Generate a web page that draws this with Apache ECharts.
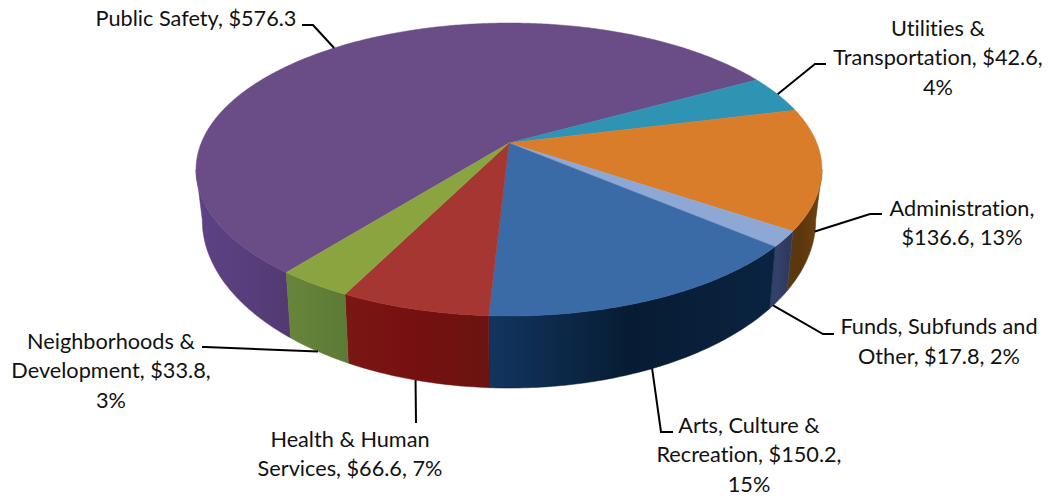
<!DOCTYPE html>
<html><head><meta charset="utf-8">
<style>html,body{margin:0;padding:0;background:#fff}#c{width:1052px;height:497px}
svg text{font-variant-ligatures:none !important;font-feature-settings:"liga" 0,"clig" 0 !important}</style>
<script src="https://cdn.jsdelivr.net/npm/echarts@6/dist/echarts.min.js"></script>
</head><body><div id="c"></div>
<script>
// ---- data ----
const categories = ['Public Safety','Utilities & Transportation','Administration','Funds, Subfunds and Other','Arts, Culture & Recreation','Health & Human Services','Neighborhoods & Development'];
const values = [576.3, 42.6, 136.6, 17.8, 150.2, 66.6, 33.8];
const labelTexts = [
  'Public Safety, $576.3',
  'Utilities &\nTransportation, $42.6,\n4%',
  'Administration,\n$136.6, 13%',
  'Funds, Subfunds and\nOther, $17.8, 2%',
  'Arts, Culture &\nRecreation, $150.2,\n15%',
  'Health & Human\nServices, $66.6, 7%',
  'Neighborhoods &\nDevelopment, $33.8,\n3%'
];
// ---- styles and layout ----
const topColors = ['#6a4c86','#2f93b3','#d97d2b','#8ea8d6','#3a6ba6','#a63631','#8aa53f'];
const wallColors = [
  ['#5c4284','#583e7c','#523a70'],['#1f6a82','#1f6a82','#1f6a82'],['#5a3a10','#5c360c','#6a4010'],['#33406a','#33406a','#2f3a60'],
  ['#123560','#071c33','#0a2340'],['#7a1714','#751010','#6a1410'],['#66853a','#627f38','#5c7a36']];
const labelCenter = [[196,18],[938,57],[962,222.5],[939,341],[749,454],[350,453.5],[111,370]];
const elbow = [[[313,25],[302,25]],[[815,64],[826,64]],[[870,214],[882,214]],[[823,334],[834,334]],[[661,432],[673,432]],[[416,423],[416,423]],[[205,347],[202,347]]];
const anchorDepth = [0,0,0.9,1,1,1,1];
const anchorShift = [0,0,6,2,0,0,0];
const startAngle = 218.4;
const cx = 509, cyApex = 143, A = 307.8, B = 141.7, p = 0.181;
const botSx = 0.98, botSy = 1.147, botY0 = 189.6;
// rim angles where the top ellipse reaches its far right and far left: only the wall between them faces the viewer
const frontFrom = 90 + Math.asin(p)*180/Math.PI, frontTo = 270 - Math.asin(p)*180/Math.PI;

const total = values.reduce((a,b)=>a+b,0);
let acc = startAngle;
const spans = values.map(v=>{let s=acc; acc+=v/total*360; let e=acc; if(s>=360){s-=360;e-=360;} return [s,e];});

function topPt(deg){
  const t=deg*Math.PI/180,u=Math.sin(t),v=-Math.cos(t),w=1-p*v;
  return [A*u/w, B*v/w];
}
const toTop=q=>[cx+q[0],cyApex+q[1]];
const toBot=q=>[cx+botSx*q[0],botY0+botSy*q[1]];
function arc(a,b,f){const n=Math.max(2,Math.ceil((b-a)*1.5));const r=[];for(let i=0;i<=n;i++)r.push(f(topPt(a+(b-a)*i/n)));return r;}
const seriesData = spans.map((s,i)=>({name:categories[i],value:[s[0],s[1],i]}));

const option = {
  animation:false,
  backgroundColor:'#fff',
  series:[
    {type:'custom',coordinateSystem:'none',silent:true,data:seriesData,z:1,
     renderItem(params,api){
      const i=api.value(2),a=Math.max(api.value(0),frontFrom),b=Math.min(api.value(1),frontTo);
      if(b<=a) return {type:'group',children:[]};
      const T=arc(a,b,toTop),O=arc(a,b,toBot);
      const xs=O.map(q=>q[0]),x0=Math.min(...xs),x1=Math.max(...xs);
      const cs=wallColors[i];
      const grad={type:'linear',global:true,x:x0,y:0,x2:Math.max(x0+1,x1),y2:0,
        colorStops:cs.map((c,k)=>({offset:k/(cs.length-1),color:c}))};
      return {type:'polygon',shape:{points:T.concat(O.slice().reverse())},style:{fill:grad,stroke:cs[1],lineWidth:0.5}};
     }},
    {type:'custom',coordinateSystem:'none',silent:true,data:seriesData,z:2,
     renderItem(params,api){
      const a=api.value(0),b=api.value(1),i=api.value(2);
      const pts=[[cx,cyApex]].concat(arc(a,b,toTop));
      return {type:'polygon',shape:{points:pts},style:{fill:topColors[i],stroke:topColors[i],lineWidth:0.5}};
     }},
    {type:'custom',coordinateSystem:'none',silent:true,data:seriesData,z:3,
     renderItem(params,api){
      const a=api.value(0),b=api.value(1),i=api.value(2);
      const q=topPt((a+b)/2+anchorShift[i]),t=toTop(q),o=toBot(q),d=anchorDepth[i];
      const start=[t[0]+(o[0]-t[0])*d,t[1]+(o[1]-t[1])*d];
      return {type:'group',children:[
        {type:'polyline',shape:{points:[start].concat(elbow[i])},style:{stroke:'#000',lineWidth:2,fill:null}},
        {type:'text',style:{text:labelTexts[i],x:labelCenter[i][0],y:labelCenter[i][1],align:'center',verticalAlign:'middle',
          font:'21.7px Lato',lineHeight:29.5,fill:'#111'}}
      ]};
     }}
  ]
};
echarts.init(document.getElementById('c'),null,{renderer:'svg'}).setOption(option);
</script></body></html>
